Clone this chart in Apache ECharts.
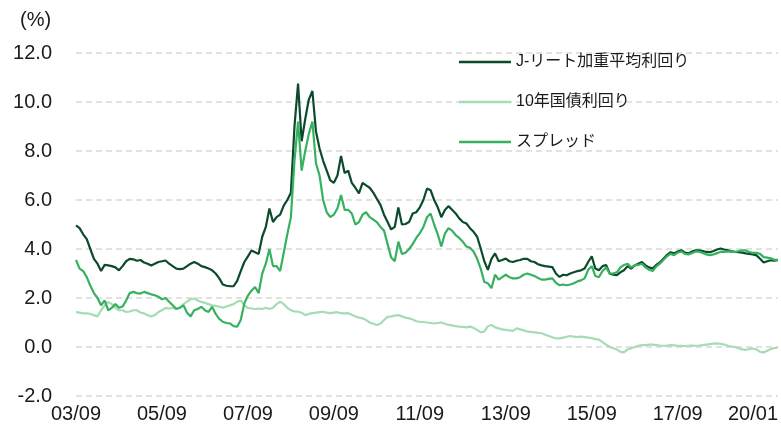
<!DOCTYPE html>
<html><head><meta charset="utf-8">
<script src="https://cdn.jsdelivr.net/npm/echarts@6/dist/echarts.min.js"></script>
<style>html,body{margin:0;padding:0;background:#fff}#c{width:781px;height:431px}</style>
</head><body><div id="c"></div>
<script>
// monthly observations from 2003/09 to 2020/01
const startYear = 2003, startMonth = 9, monthCount = 197;
const tickLabels = ['03/09','05/09','07/09','09/09','11/09','13/09','15/09','17/09','20/01'];
const seriesNames = ['J-リート加重平均利回り','10年国債利回り','スプレッド'];

const jreitYield = [
4.96,4.85,4.6,4.4,4.0,3.6,3.4,3.1,3.35,3.33,
3.3,3.25,3.13,3.3,3.5,3.6,3.58,3.52,3.55,3.45,
3.4,3.33,3.4,3.47,3.5,3.53,3.4,3.3,3.2,3.18,
3.2,3.3,3.4,3.47,3.4,3.3,3.26,3.2,3.13,3.0,
2.8,2.55,2.5,2.48,2.48,2.7,3.1,3.47,3.7,3.94,
3.87,3.8,4.5,4.9,5.65,5.1,5.3,5.4,5.77,6.0,
6.3,9.0,10.75,8.4,9.3,10.1,10.45,8.8,8.1,7.6,
7.2,6.8,6.7,7.0,7.8,7.1,7.2,6.7,6.5,6.27,
6.7,6.6,6.5,6.3,6.05,5.8,5.4,5.1,4.8,4.9,
5.7,5.0,5.02,5.1,5.45,5.5,5.7,6.0,6.47,6.4,
6.0,5.7,5.3,5.59,5.75,5.6,5.45,5.25,5.1,5.04,
4.85,4.7,4.5,4.02,3.5,3.15,3.6,3.82,3.5,3.55,
3.61,3.5,3.47,3.52,3.55,3.6,3.6,3.5,3.47,3.38,
3.33,3.3,3.28,3.26,3.0,2.86,2.95,2.93,3.0,3.05,
3.1,3.13,3.2,3.47,3.7,3.2,3.13,3.3,3.35,3.0,
2.95,2.93,3.05,3.13,3.3,3.2,3.33,3.4,3.47,3.33,
3.25,3.2,3.35,3.45,3.6,3.75,3.87,3.82,3.9,3.95,
3.85,3.82,3.9,3.95,3.95,3.92,3.88,3.87,3.92,3.98,
4.02,3.98,3.95,3.9,3.88,3.87,3.85,3.82,3.8,3.78,
3.74,3.6,3.45,3.5,3.54,3.52,3.54
];

const jgb10y = [
1.43,1.4,1.37,1.37,1.35,1.3,1.25,1.5,1.7,1.84,
1.75,1.6,1.5,1.5,1.43,1.45,1.5,1.5,1.4,1.37,
1.3,1.25,1.3,1.43,1.5,1.6,1.57,1.6,1.55,1.6,
1.75,1.85,1.95,1.98,1.9,1.84,1.8,1.75,1.7,1.68,
1.65,1.6,1.65,1.7,1.75,1.85,1.9,1.7,1.6,1.57,
1.55,1.57,1.55,1.6,1.55,1.6,1.75,1.85,1.75,1.6,
1.5,1.45,1.44,1.4,1.3,1.35,1.38,1.4,1.42,1.44,
1.4,1.38,1.4,1.42,1.38,1.37,1.38,1.32,1.25,1.2,
1.17,1.1,1.0,0.95,0.9,0.95,1.1,1.23,1.25,1.28,
1.3,1.25,1.2,1.17,1.12,1.05,1.03,1.02,1.0,0.98,
0.96,0.98,1.0,0.95,0.9,0.88,0.85,0.83,0.82,0.8,
0.83,0.78,0.7,0.6,0.63,0.85,0.9,0.8,0.76,0.72,
0.7,0.68,0.66,0.76,0.72,0.68,0.63,0.62,0.6,0.58,
0.56,0.5,0.45,0.4,0.35,0.35,0.38,0.42,0.45,0.42,
0.4,0.42,0.4,0.38,0.36,0.32,0.3,0.2,0.1,0.0,
-0.05,-0.1,-0.2,-0.22,-0.1,-0.05,0.0,0.05,0.08,0.08,
0.1,0.1,0.08,0.06,0.05,0.06,0.08,0.07,0.05,0.05,
0.04,0.05,0.06,0.05,0.06,0.08,0.1,0.12,0.14,0.15,
0.13,0.1,0.05,0.02,0.0,-0.05,-0.1,-0.12,-0.08,-0.06,
-0.1,-0.2,-0.22,-0.15,-0.08,-0.04,-0.02
];

const spread = [
3.55,3.2,3.1,2.85,2.5,2.2,2.0,1.7,1.9,1.5,
1.6,1.75,1.6,1.65,1.9,2.2,2.25,2.2,2.18,2.25,
2.2,2.15,2.11,2.05,1.95,2.0,1.85,1.7,1.55,1.6,
1.7,1.4,1.25,1.5,1.55,1.64,1.5,1.43,1.64,1.35,
1.15,1.03,0.98,0.96,0.85,0.83,1.1,1.78,2.1,2.3,
2.45,2.2,3.0,3.4,4.0,3.3,3.3,3.1,3.85,4.6,
5.3,7.6,9.2,7.2,8.0,8.7,9.2,7.5,7.0,6.0,
5.5,5.3,5.4,5.66,6.2,5.6,5.6,5.45,5.0,5.1,
5.4,5.5,5.3,5.2,5.1,4.9,4.75,4.2,3.65,3.5,
4.3,3.8,3.85,4.0,4.2,4.45,4.65,4.9,5.3,5.45,
5.0,4.6,4.1,4.63,4.85,4.75,4.57,4.45,4.3,4.1,
4.05,3.9,3.6,3.2,2.65,2.6,2.4,2.95,2.75,2.85,
2.95,2.85,2.8,2.8,2.85,2.95,3.0,2.95,2.9,2.82,
2.75,2.75,2.78,2.8,2.62,2.52,2.55,2.52,2.55,2.6,
2.68,2.72,2.8,3.15,3.3,2.9,2.85,3.1,3.25,3.0,
3.0,3.05,3.25,3.35,3.4,3.25,3.33,3.35,3.4,3.25,
3.15,3.1,3.28,3.4,3.55,3.7,3.8,3.75,3.85,3.9,
3.8,3.78,3.84,3.9,3.89,3.84,3.78,3.75,3.78,3.83,
3.89,3.88,3.9,3.88,3.88,3.92,3.95,3.94,3.88,3.84,
3.84,3.8,3.67,3.65,3.62,3.56,3.56
];

const months = [];
for (let i = 0; i < monthCount; i++) {
  const t = (startMonth - 1) + i;
  const y = startYear + Math.floor(t / 12);
  const m = (t % 12) + 1;
  months.push(String(y % 100).padStart(2, '0') + '/' + String(m).padStart(2, '0'));
}

const FONT = '"Liberation Sans", Arial, "Noto Sans CJK JP", sans-serif';
const chart = echarts.init(document.getElementById('c'), null, {renderer: 'canvas'});
chart.setOption({
  animation: false,
  backgroundColor: '#ffffff',
  title: {text: '(%)', left: 15, top: 5, textStyle: {fontFamily: FONT, fontSize: 20, fontWeight: 'normal', color: '#1a1a1a'}},
  grid: {left: 76, right: 1, top: 53, bottom: 35, containLabel: false},
  legend: {
    orient: 'vertical', left: 459, top: 54, itemWidth: 52, itemHeight: 2.5, itemGap: 24,
    padding: 0, icon: 'rect',
    textStyle: {fontFamily: FONT, fontSize: 16, color: '#1a1a1a', padding: [0, 0, 0, 0]},
    data: seriesNames
  },
  xAxis: {
    type: 'category', data: months, boundaryGap: false,
    axisLine: {show: false}, axisTick: {show: false}, splitLine: {show: false},
    axisLabel: {
      interval: (i, v) => tickLabels.includes(v),
      fontFamily: FONT, fontSize: 20, color: '#1a1a1a', margin: 8,
      showMaxLabel: true, alignMaxLabel: 'right'
    }
  },
  yAxis: {
    type: 'value', min: -2, max: 12, interval: 2,
    axisLine: {show: false}, axisTick: {show: false},
    axisLabel: {formatter: v => v.toFixed(1), fontFamily: FONT, fontSize: 20, color: '#1a1a1a', margin: 24},
    splitLine: {show: true, lineStyle: {color: '#d9d9d9', width: 1.5, type: [6, 4]}}
  },
  series: [
    {name: seriesNames[0], type: 'line', data: jreitYield, symbol: 'none', lineStyle: {color: '#0b4a2a', width: 2.2}, itemStyle: {color: '#0b4a2a'}},
    {name: seriesNames[1], type: 'line', data: jgb10y, symbol: 'none', lineStyle: {color: '#a6dcb2', width: 2.2}, itemStyle: {color: '#a6dcb2'}},
    {name: seriesNames[2], type: 'line', data: spread, symbol: 'none', lineStyle: {color: '#36b15f', width: 2.2}, itemStyle: {color: '#36b15f'}}
  ]
});
</script></body></html>
